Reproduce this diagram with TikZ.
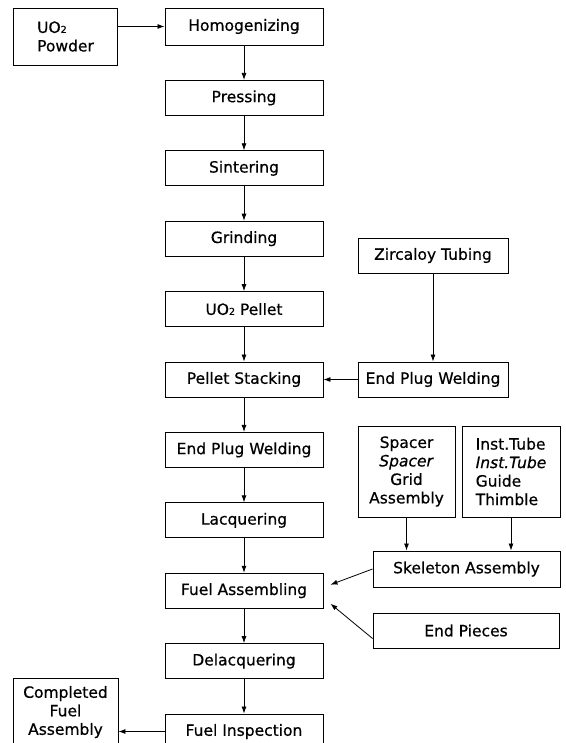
\documentclass[tikz,border=0pt]{standalone}
\usepackage{fontspec}
\setmainfont{DejaVu Sans}[FakeBold=0.6]
\usepackage{tikz}
\usetikzlibrary{arrows.meta,positioning}
\newcommand{\uotwo}{UO{\fontsize{9.5}{9.5}\selectfont 2}}

\begin{document}
\begin{tikzpicture}[x=1pt, y=-1pt,
    every node/.style={font=\fontsize{15.5}{18.5}\selectfont},
    procbox/.style={draw, line width=0.9pt, minimum width=158pt, minimum height=35pt, inner sep=2pt},
    sidebox/.style={draw, line width=0.9pt, inner sep=2pt},
    flow/.style={line width=0.8pt, -{Latex[length=7pt,width=5pt]}}]
    \useasboundingbox (0,0) rectangle (565,743);

    % Main process column
    \node[procbox, minimum height=37pt] (homog) at (244,26.5) {Homogenizing};
    \node[procbox, below=34.5pt of homog] (press) {Pressing};
    \node[procbox, below=34.5pt of press] (sinter) {Sintering};
    \node[procbox, below=34.5pt of sinter] (grind) {Grinding};
    \node[procbox, below=34.5pt of grind] (pellet) {\uotwo\ Pellet};
    \node[procbox, below=34.5pt of pellet] (stack) {Pellet Stacking};
    \node[procbox, below=34.5pt of stack] (weld) {End Plug Welding};
    \node[procbox, below=34.5pt of weld] (lacq) {Lacquering};
    \node[procbox, below=34.5pt of lacq] (fasm) {Fuel Assembling};
    \node[procbox, below=34.5pt of fasm] (delacq) {Delacquering};
    \node[procbox, below=34.5pt of delacq] (insp) {Fuel Inspection};

    % Feed and product
    \node[sidebox, minimum width=104pt, minimum height=57pt, align=left] (powder) at (65.5,36.5) {\uotwo\\Powder};
    \node[sidebox, minimum width=105pt, minimum height=68pt, align=center] (compl) at (65.5,712) {Completed\\Fuel\\Assembly};

    % Cladding branch
    \node[sidebox, minimum width=150pt, minimum height=35pt] (zirc) at (433,255.5) {Zircaloy Tubing};
    \node[sidebox, minimum width=150pt, minimum height=35pt] (weldr) at (zirc |- stack) {End Plug Welding};

    % Skeleton branch
    \node[sidebox, minimum width=97pt, minimum height=91pt, align=center] (spacer) at (406.5,471.5) {Spacer\\\textit{Spacer}\\Grid\\Assembly};
    \node[sidebox, minimum width=98pt, minimum height=91pt, align=left] (inst) at (511,471.5) {Inst.Tube\\\textit{Inst.Tube}\\Guide\\Thimble};
    \node[sidebox, minimum width=187pt, minimum height=36pt] (skel) at (466.5,569) {Skeleton Assembly};
    \node[sidebox, minimum width=186pt, minimum height=35pt] (endp) at (466,630.5) {End Pieces};

    % Arrows down the main column
    \foreach \a/\b in {homog/press, press/sinter, sinter/grind, grind/pellet, pellet/stack,
        stack/weld, weld/lacq, lacq/fasm, fasm/delacq, delacq/insp}
        \draw[flow] (\a) -- (\b);

    % Side arrows
    \draw[flow] (powder.east |- homog) -- (homog.west);
    \draw[flow] (zirc) -- (weldr);
    \draw[flow] (weldr) -- (stack);
    \draw[flow] (spacer.south) -- (spacer.south |- skel.north);
    \draw[flow] (inst.south) -- (inst.south |- skel.north);
    \draw[flow] (skel.west) -- ([shift={(7pt,6pt)}]fasm.east);
    \draw[flow] ([yshift=-8pt]endp.west) -- ([shift={(7pt,-13pt)}]fasm.east);
    \draw[flow] (insp.west) -- (insp.west -| compl.east);
\end{tikzpicture}
\end{document}
